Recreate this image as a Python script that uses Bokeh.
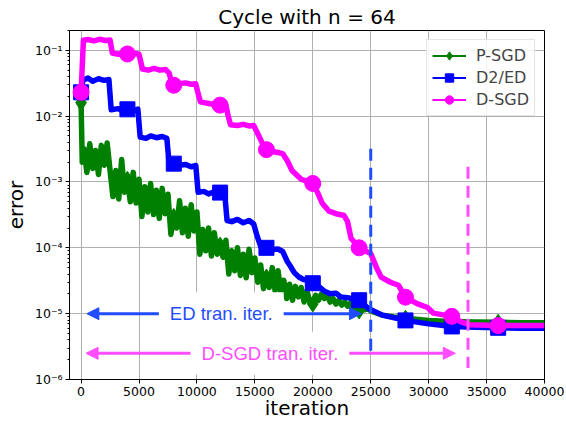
from bokeh.plotting import figure
from bokeh.models import (FixedTicker, CustomJSTickFormatter, Arrow, NormalHead,
                          Label, Legend, LegendItem)
from bokeh.embed import file_html
from bokeh.resources import INLINE

# ---------------- data ----------------
x_ticks = [0, 5000, 10000, 15000, 20000, 25000, 30000, 35000, 40000]
y_ticks = [1e-6, 1e-5, 1e-4, 1e-3, 1e-2, 1e-1]
y_tick_labels = ["10⁻⁶", "10⁻⁵", "10⁻⁴", "10⁻³", "10⁻²", "10⁻¹"]
y_minor_ticks = [m * 10.0 ** e for e in range(-6, 0) for m in range(2, 10)]

marker_iters = [0, 4000, 8000, 12000, 16000, 20000, 24000, 28000, 32000, 36000]

psgd_iter = [0, 100] + list(range(250, 25001, 250)) + [26000, 27000, 28000, 30000, 32000, 34000, 36000, 38000, 40000]
psgd_err = [1.6e-2, 2.0e-3,
            3.2e-3, 1.4e-3, 3.8e-3, 1.6e-3, 3.0e-3, 1.3e-3, 3.6e-3, 1.8e-3, 3.9e-3, 1.5e-3,
            6.0e-4, 1.5e-3, 5.5e-4, 2.2e-3, 7.0e-4, 1.1e-3, 5.0e-4, 1.4e-3, 4.8e-4, 1.1e-3,
            3.0e-4, 8.5e-4, 3.5e-4, 9.5e-4, 3.2e-4, 7.5e-4, 2.8e-4, 8.0e-4, 3.3e-4, 6.5e-4,
            1.6e-4, 3.0e-4, 2.0e-4, 5.2e-4, 1.7e-4, 4.0e-4, 1.5e-4, 4.5e-4, 1.8e-4, 3.5e-4,
            8.0e-5, 1.9e-4, 9.0e-5, 2.0e-4, 7.5e-5, 1.7e-4, 8.0e-5, 1.1e-4, 7.2e-5, 1.3e-4,
            4.0e-5, 9.0e-5, 4.5e-5, 1.0e-4, 3.8e-5, 8.0e-5, 3.5e-5, 9.5e-5, 4.2e-5, 7.0e-5,
            3.0e-5, 5.5e-5, 2.4e-5, 3.6e-5, 2.5e-5, 5.0e-5, 2.2e-5, 4.5e-5, 2.1e-5, 3.2e-5,
            1.7e-5, 2.8e-5, 1.6e-5, 2.6e-5, 1.8e-5, 2.5e-5, 1.5e-5, 2.2e-5, 1.5e-5, 1.4e-5,
            1.9e-5, 1.6e-5, 2.0e-5, 1.7e-5, 1.9e-5, 1.5e-5, 1.7e-5, 1.4e-5, 1.6e-5, 1.35e-5,
            1.5e-5, 1.3e-5, 1.45e-5, 1.2e-5, 1.3e-5, 1.1e-5, 1.2e-5, 1.15e-5, 1.2e-5, 1.1e-5,
            9.5e-6, 8.9e-6, 8.5e-6, 7.9e-6, 7.6e-6, 7.5e-6, 7.4e-6, 7.3e-6, 7.3e-6]

ed_iter = [0, 150, 600, 1000, 1500, 2000, 2400,
           2600, 3200, 3600, 4000, 4500, 4900,
           5100, 5600, 6000, 6500, 7000, 7400,
           7600, 8000, 8500, 9000, 9500, 9900,
           10100, 10600, 11000, 11500, 12000, 12400,
           12600, 13000, 13500, 14000, 14500, 14900,
           15200, 15500, 16000, 16500, 17000, 17400,
           17800, 18000, 18400, 18800, 19200, 19600, 20000,
           20500, 21000, 21500, 22000, 22400, 23000, 24000, 24800,
           26000, 28000, 30000, 32000, 34000, 36000, 38000, 40000]
ed_err = [0.023, 0.035, 0.038, 0.034, 0.037, 0.035, 0.036,
          0.0125, 0.013, 0.0121, 0.0127, 0.0122, 0.0128,
          0.0048, 0.0046, 0.0050, 0.0047, 0.0049, 0.0046,
          0.0019, 0.0019, 0.0018, 0.00185, 0.0017, 0.00178,
          0.0007, 0.00072, 0.00066, 0.00071, 0.00069, 0.00066,
          0.00026, 0.00025, 0.00027, 0.00024, 0.00026, 0.00023,
          0.00015, 0.000105, 0.0001, 0.000094, 0.000096, 0.000088,
          0.000062, 0.000055, 0.000042, 0.000036, 0.000033, 0.000032, 0.000029,
          0.000026, 0.000022, 0.00002, 0.0000205, 0.000018, 0.0000175, 0.000016, 0.000012,
          0.0000095, 0.0000079, 0.000007, 0.0000064, 0.0000062, 0.0000061, 0.000006, 0.000006]

dsgd_iter = [0, 200, 600, 1100, 1600, 2100, 2500,
             2700, 3200, 3700, 4000, 4500, 5000,
             5300, 5800, 6300, 6800, 7300,
             7600, 7800, 8000, 8500, 9000, 9500, 9900,
             10100, 10300, 10800, 11400, 12000, 12500,
             12700, 12900, 13500, 14000, 14500, 14900,
             15300, 15700, 16000, 16500, 17000, 17400,
             17800, 18200, 19000, 20000,
             20400, 20800, 21400, 22000, 22700, 23000, 23300, 24000,
             24500, 25000, 25500, 25900, 26700, 27400, 28000,
             29000, 29900, 30400, 32000, 32800, 33500, 36000, 40000]
dsgd_err = [0.023, 0.142, 0.146, 0.139, 0.147, 0.141, 0.143,
            0.091, 0.087, 0.092, 0.088, 0.091, 0.087,
            0.052, 0.050, 0.053, 0.050, 0.051,
            0.045, 0.033, 0.0295, 0.031, 0.032, 0.0305, 0.031,
            0.022, 0.0165, 0.0158, 0.0152, 0.0147, 0.0145,
            0.010, 0.0074, 0.0072, 0.0075, 0.0071, 0.0072,
            0.0052, 0.0037, 0.0031, 0.0029, 0.0028, 0.0027,
            0.0021, 0.0015, 0.0011, 0.00095,
            0.0007, 0.00048, 0.00036, 0.00033, 0.00031, 0.00025, 0.00014, 0.0001,
            0.00009, 0.000082, 0.00005, 0.000036, 0.00003, 0.000027, 0.0000178,
            0.0000142, 0.0000124, 0.0000102, 0.0000091, 0.0000075, 0.0000068, 0.0000066, 0.0000066]

# transient-iteration markers
ed_tran_iter = 25000
ed_tran_span = [3.2e-3, 2.6e-6]
dsgd_tran_iter = 33400
dsgd_tran_span = [1.7e-3, 1.5e-6]
ed_arrow = dict(x0=500, x1=24200, y=1e-5, label_x=12100)
dsgd_arrow = dict(x0=430, x1=32300, y=2.5e-6, label_x=16300)

GREEN = "#008000"
BLUE = "#0000ff"
MAGENTA = "#ff00ff"
BLUE_A = "#1f4dff"
MAGENTA_A = "#ff4dff"

# ---------------- figure ----------------
p = figure(width=566, height=422, x_range=(-1000, 40000), y_range=(1e-6, 0.2),
           y_axis_type="log", output_backend="svg", toolbar_location=None,
           min_border_left=67, min_border_right=22, min_border_top=30, min_border_bottom=41)
p.background_fill_color = "white"
p.border_fill_color = "white"
p.outline_line_color = "black"
p.outline_line_width = 1
p.outline_line_alpha = 1

p.title.text = "Cycle with n = 64"
p.title.align = "center"
p.title.text_font = "DejaVu Sans"
p.title.text_font_size = "20px"
p.title.text_font_style = "normal"
p.title.text_color = "black"
p.title.standoff = 3

xt = FixedTicker(ticks=x_ticks)
yt = FixedTicker(ticks=y_ticks, minor_ticks=y_minor_ticks)
p.xaxis.ticker = xt
p.yaxis.ticker = yt
p.xgrid.ticker = xt
p.ygrid.ticker = yt
p.yaxis.formatter = CustomJSTickFormatter(
    args=dict(yvals=y_ticks, ylabs=y_tick_labels),
    code="""
    for (let i = 0; i < yvals.length; i++) {
        if (Math.abs(Math.log10(yvals[i]) - Math.log10(tick)) < 1e-6) { return ylabs[i]; }
    }
    return '';
    """)

for ax in (p.xaxis, p.yaxis):
    ax.major_label_text_font = "DejaVu Sans"
    ax.major_label_text_font_size = "12.5px"
    ax.major_label_text_color = "black"
    ax.axis_label_text_font = "DejaVu Sans"
    ax.axis_label_text_font_size = "20px"
    ax.axis_label_text_font_style = "normal"
    ax.axis_label_text_color = "black"
    ax.axis_line_color = "black"
    ax.major_tick_line_color = "black"
    ax.major_tick_out = 4
    ax.major_tick_in = 0
    ax.minor_tick_out = 2
    ax.minor_tick_in = 0
p.xaxis.major_label_standoff = 3
p.xaxis.axis_label_standoff = -3
p.yaxis.major_label_standoff = 3
p.yaxis.axis_label_standoff = 4
p.xaxis.minor_tick_line_color = None
p.xaxis.axis_label = "iteration"
p.yaxis.axis_label = "error"

for g in (p.xgrid, p.ygrid):
    g.grid_line_color = "#b0b0b0"
    g.grid_line_width = 1

LW = 5.5
MS = 16

def idx(iters):
    return [iters.index(t) for t in marker_iters]

pi = idx(psgd_iter)
p.line(psgd_iter, psgd_err, line_color=GREEN, line_width=LW, line_join="round")
p.scatter([psgd_iter[i] for i in pi], [psgd_err[i] for i in pi], marker="diamond",
          size=MS, fill_color=GREEN, line_color=GREEN)

ei = idx(ed_iter)
p.line(ed_iter, ed_err, line_color=BLUE, line_width=LW, line_join="round")
p.scatter([ed_iter[i] for i in ei], [ed_err[i] for i in ei], marker="square",
          size=MS - 1, fill_color=BLUE, line_color=BLUE)

di = idx(dsgd_iter)
p.line(dsgd_iter, dsgd_err, line_color=MAGENTA, line_width=LW, line_join="round")
p.scatter([dsgd_iter[i] for i in di], [dsgd_err[i] for i in di], marker="circle",
          size=MS, fill_color=MAGENTA, line_color=MAGENTA)

p.line([ed_tran_iter, ed_tran_iter], ed_tran_span, line_color=BLUE_A, line_width=3, line_dash="12 7")
p.line([dsgd_tran_iter, dsgd_tran_iter], dsgd_tran_span, line_color=MAGENTA_A, line_width=3, line_dash="12 7")

for a, col, txt in ((ed_arrow, BLUE_A, "ED tran. iter."), (dsgd_arrow, MAGENTA_A, "D-SGD tran. iter.")):
    p.add_layout(Arrow(x_start=a["x0"], x_end=a["x1"], y_start=a["y"], y_end=a["y"],
                       line_color=col, line_width=3,
                       start=NormalHead(size=12, fill_color=col, line_color=col),
                       end=NormalHead(size=12, fill_color=col, line_color=col)))
    p.add_layout(Label(x=a["label_x"], y=a["y"], text=txt, text_color=col,
                       text_font="Liberation Sans", text_font_size="18.5px",
                       text_align="center", text_baseline="middle",
                       background_fill_color="white", background_fill_alpha=1,
                       padding=11))

# legend (hidden proxy renderers with thin lines / smaller markers)
items = []
for name, col, mk, sz, xs, ys in (("P-SGD", GREEN, "diamond", 14, psgd_iter, psgd_err),
                                  ("D2/ED", BLUE, "square", 11, ed_iter, ed_err),
                                  ("D-SGD", MAGENTA, "circle", 12, dsgd_iter, dsgd_err)):
    r1 = p.line(xs, ys, line_color=col, line_width=2, visible=False)
    r2 = p.scatter(xs[:1], ys[:1], marker=mk, size=sz, fill_color=col, line_color=col, visible=False)
    items.append(LegendItem(label=name, renderers=[r1, r2]))
legend = Legend(items=items, location="top_right", margin=9,
                label_text_font="DejaVu Sans", label_text_font_size="16px",
                glyph_width=34, glyph_height=21, label_height=21, spacing=1,
                padding=5, label_standoff=10,
                border_line_color="#cccccc", border_line_width=1,
                background_fill_color="white", background_fill_alpha=0.85,
                inactive_fill_alpha=0)
p.add_layout(legend)

open("out.html", "w").write(file_html(p, INLINE))
